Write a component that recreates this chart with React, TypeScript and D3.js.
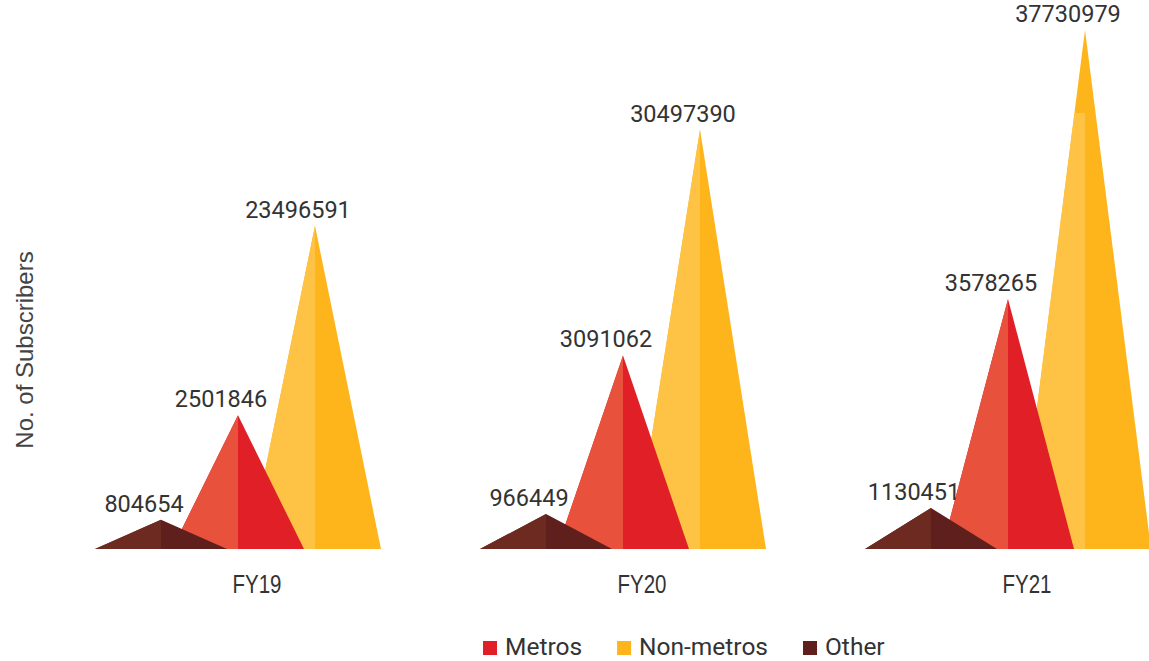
import React, { useEffect, useRef } from "react";
import * as d3 from "d3";

const years = ["FY19", "FY20", "FY21"];
const seriesNames = ["Other", "Metros", "Non-metros"];
const otherValues = [804654, 966449, 1130451];
const metrosValues = [2501846, 3091062, 3578265];
const nonMetrosValues = [23496591, 30497390, 37730979];
const legendNames = ["Metros", "Non-metros", "Other"];
const yAxisTitle = "No. of Subscribers";

const W = 1149;
const H = 661;
const BASE = 549;

const COLORS: Record<string, { light: string; dark: string }> = {
  Other: { light: "#6d2a21", dark: "#5f1f1d" },
  Metros: { light: "#e8513c", dark: "#e11f27" },
  "Non-metros": { light: "#fec244", dark: "#feb51b" },
};

export default function App() {
  const ref = useRef<SVGSVGElement | null>(null);

  useEffect(() => {
    const svg = d3.select(ref.current);
    svg.selectAll("*").remove();

    const valuesBySeries: Record<string, number[]> = {
      Other: otherValues,
      Metros: metrosValues,
      "Non-metros": nonMetrosValues,
    };

    const x = d3.scalePoint<string>().domain(years).range([238, 1008]);
    const offset = d3.scalePoint<string>().domain(seriesNames).range([-77, 77]);
    const halfW = 66;

    const yScales: Record<string, (v: number) => number> = {
      Other: d3.scaleLinear().domain([0, 1130451]).range([BASE, 508]),
      Metros: d3.scalePow().exponent(1.75).domain([0, 3578265]).range([BASE, 299]),
      "Non-metros": d3.scaleLinear().domain([0, 37730979]).range([BASE, 30]),
    };
    // light face shading stops at this value on the non-metros scale
    const faceCapValue: Record<string, number> = { "Non-metros": 31.7e6 };

    const drawOrder = ["Non-metros", "Metros", "Other"];
    const g = svg.append("g");

    drawOrder.forEach((s) => {
      const vals = valuesBySeries[s];
      const y = yScales[s];
      years.forEach((yr, i) => {
        const cx = (x(yr) as number) + (offset(s) as number);
        const top = y(vals[i]);
        const left = cx - halfW;
        const right = cx + halfW;
        g.append("path")
          .attr("d", d3.line()([[left, BASE], [cx, top], [right, BASE]]) + "Z")
          .attr("fill", COLORS[s].dark);
        let capY = top;
        if (faceCapValue[s] !== undefined) capY = Math.max(top, y(faceCapValue[s]));
        const t = (BASE - capY) / (BASE - top);
        const edgeX = left + (cx - left) * t;
        g.append("path")
          .attr("d", d3.line()([[left, BASE], [edgeX, capY], [cx, capY], [cx, BASE]]) + "Z")
          .attr("fill", COLORS[s].light);
      });
    });

    // value labels
    drawOrder.forEach((s) => {
      const vals = valuesBySeries[s];
      const y = yScales[s];
      years.forEach((yr, i) => {
        const cx = (x(yr) as number) + (offset(s) as number);
        g.append("text")
          .attr("x", cx - 17)
          .attr("y", y(vals[i]) - 8)
          .attr("text-anchor", "middle")
          .attr("font-family", "Roboto, sans-serif")
          .attr("font-size", 23.5)
          .attr("fill", "#333")
          .text(String(vals[i]));
      });
    });

    // category labels (narrow)
    years.forEach((yr) => {
      const cx = (x(yr) as number) + 19;
      g.append("text")
        .attr("transform", `translate(${cx},593) scale(0.82,1)`)
        .attr("text-anchor", "middle")
        .attr("font-family", "'Liberation Sans', Arial, sans-serif")
        .attr("font-size", 25)
        .attr("fill", "#333")
        .text(yr);
    });

    // y-axis title
    g.append("text")
      .attr("transform", "translate(33,350) rotate(-90)")
      .attr("text-anchor", "middle")
      .attr("font-family", "'Liberation Sans', Arial, sans-serif")
      .attr("font-size", 24)
      .attr("fill", "#444")
      .text(yAxisTitle);

    // legend
    const lg = svg.append("g");
    let lx = 483;
    legendNames.forEach((name) => {
      lg.append("rect")
        .attr("x", lx)
        .attr("y", 641)
        .attr("width", 14)
        .attr("height", 14)
        .attr("fill", COLORS[name].dark);
      const t = lg
        .append("text")
        .attr("x", lx + 22)
        .attr("y", 655)
        .attr("font-family", "Roboto, sans-serif")
        .attr("font-size", 24.5)
        .attr("fill", "#333")
        .text(name);
      const w = (t.node() as SVGTextElement).getComputedTextLength();
      lx = lx + 22 + w + 35;
    });
  }, []);

  return (
    <svg
      ref={ref}
      width={W}
      height={H}
      style={{ position: "absolute", left: 0, top: 0, background: "#fff", display: "block" }}
    />
  );
}
